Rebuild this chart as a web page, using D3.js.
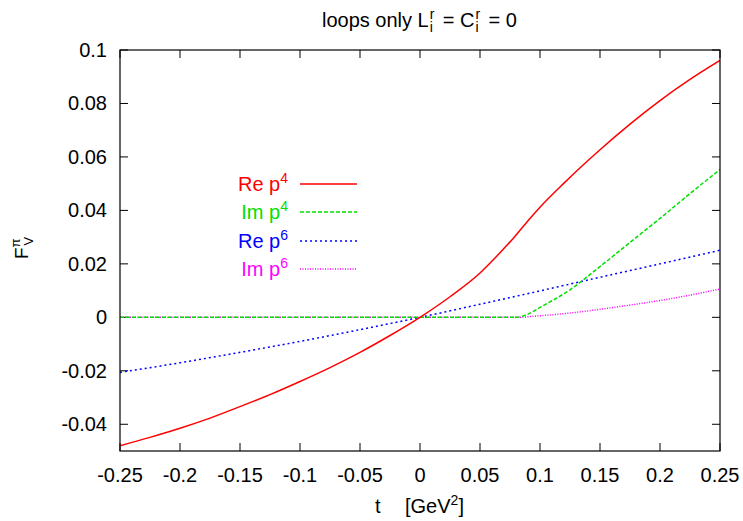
<!DOCTYPE html>
<html><head><meta charset="utf-8">
<script src="https://cdn.jsdelivr.net/npm/d3@7"></script>
<style>
body{margin:0;background:#fff;}
svg{display:block;font-family:"Liberation Sans",Arial,Helvetica,sans-serif;}
</style></head>
<body><svg id="c" width="743" height="521"></svg>
<script>
// ---- data ----
const rePos = [[-0.25,-0.048],[-0.225,-0.0449],[-0.2,-0.0415],[-0.175,-0.0377],[-0.15,-0.0334],[-0.125,-0.0289],[-0.1,-0.0240],[-0.075,-0.0188],[-0.05,-0.0131],[-0.025,-0.0068],[0,0],[0.025,0.0077],[0.05,0.0166],[0.0625,0.0222],[0.078,0.0297],[0.092,0.0372],[0.1,0.0412],[0.12,0.0502],[0.135,0.0566],[0.15,0.0627],[0.175,0.0723],[0.2,0.0811],[0.225,0.0890],[0.25,0.0961]];
const imP4 = [[-0.25,0],[0.08,0],[0.09,0.0012],[0.1,0.0037],[0.125,0.0103],[0.15,0.019],[0.175,0.028],[0.2,0.037],[0.225,0.0463],[0.25,0.0553]];
const reP6 = [[-0.25,-0.0206],[-0.2,-0.017],[-0.15,-0.0131],[-0.1,-0.009],[-0.05,-0.0046],[0,0],[0.05,0.0049],[0.1,0.0099],[0.15,0.015],[0.2,0.02],[0.25,0.0251]];
const imP6 = [[-0.25,0],[0.08,0],[0.1,0.0006],[0.125,0.0016],[0.15,0.003],[0.175,0.0046],[0.2,0.0063],[0.225,0.0083],[0.25,0.0106]];
const xTicks = [-0.25,-0.2,-0.15,-0.1,-0.05,0,0.05,0.1,0.15,0.2,0.25];
const xTickLabels = ["-0.25","-0.2","-0.15","-0.1","-0.05","0","0.05","0.1","0.15","0.2","0.25"];
const yTicks = [-0.04,-0.02,0,0.02,0.04,0.06,0.08,0.1];
const yTickLabels = ["-0.04","-0.02","0","0.02","0.04","0.06","0.08","0.1"];
const seriesNames = ["Re p","Im p","Re p","Im p"];
const seriesPowers = ["4","4","6","6"];

const series = [
 {data:rePos, color:"#ff0000", dash:null, w:1.5},
 {data:imP4, color:"#00e000", dash:"4,2", w:1.5},
 {data:reP6, color:"#0000ff", dash:"2,3", w:1.5},
 {data:imP6, color:"#ff00ff", dash:"1,1.5", w:1.5}
];

const svg = d3.select("#c");
const L=120,R=720,T=50,B=451;
const x = d3.scaleLinear().domain([-0.25,0.25]).range([L,R]);
const y = d3.scaleLinear().domain([-0.05,0.1]).range([B,T]);
const fs = 20;

// ticks (inward, mirrored)
const tl = 8;
const g = svg.append("g");
xTicks.forEach((t,i)=>{
  g.append("line").attr("x1",x(t)).attr("x2",x(t)).attr("y1",B).attr("y2",B-tl).attr("stroke","#000");
  g.append("line").attr("x1",x(t)).attr("x2",x(t)).attr("y1",T).attr("y2",T+tl).attr("stroke","#000");
  g.append("text").attr("x",x(t)).attr("y",B+31).attr("text-anchor","middle").attr("font-size",fs).text(xTickLabels[i]);
});
yTicks.forEach((t,i)=>{
  g.append("line").attr("x1",L).attr("x2",L+tl).attr("y1",y(t)).attr("y2",y(t)).attr("stroke","#000");
  g.append("line").attr("x1",R).attr("x2",R-tl).attr("y1",y(t)).attr("y2",y(t)).attr("stroke","#000");
  g.append("text").attr("x",L-13).attr("y",y(t)+7).attr("text-anchor","end").attr("font-size",fs).text(yTickLabels[i]);
});

const line = d3.line().x(d=>x(d[0])).y(d=>y(d[1])).curve(d3.curveMonotoneX);
svg.append("clipPath").attr("id","pc").append("rect").attr("x",L).attr("y",T).attr("width",R-L).attr("height",B-T);
series.slice().reverse().forEach(s=>{
  svg.append("path").attr("d",line(s.data)).attr("fill","none").attr("stroke",s.color)
   .attr("stroke-width",s.w).attr("stroke-dasharray",s.dash).attr("clip-path","url(#pc)");
});

svg.append("rect").attr("x",L).attr("y",T).attr("width",R-L).attr("height",B-T)
  .attr("fill","none").attr("stroke","#000").attr("stroke-width",1.2);

// legend
const ly=[184,212,241,269];
series.forEach((s,i)=>{
  const t = svg.append("text").attr("x",288).attr("y",ly[i]+7).attr("text-anchor","end").attr("font-size",fs).attr("fill",s.color);
  t.append("tspan").text(seriesNames[i]);
  t.append("tspan").attr("dy",-8).attr("font-size",14).text(seriesPowers[i]);
  svg.append("line").attr("x1",300).attr("x2",357).attr("y1",ly[i]).attr("y2",ly[i])
    .attr("stroke",s.color).attr("stroke-width",s.w).attr("stroke-dasharray",s.dash);
});

// title (sup/sub stacked)
const tg = svg.append("g");
let cx = 322;
const base = 27;
function txt(s,xx,yy,size){ return tg.append("text").attr("x",xx).attr("y",yy).attr("font-size",size).text(s); }
let n1 = txt("loops only L",cx,base,20); cx += n1.node().getComputedTextLength();
txt("r",cx+1,base-8,14); txt("i",cx+1,base+5,14); cx += 14;
let n2 = txt("= C",cx,base,20); cx += n2.node().getComputedTextLength();
txt("r",cx+1,base-8,14); txt("i",cx+1,base+5,14); cx += 14;
txt("= 0",cx,base,20);

// x label
svg.append("text").attr("x",375).attr("y",513).attr("font-size",fs).text("t");
const xl = svg.append("text").attr("x",405).attr("y",513).attr("font-size",fs);
xl.append("tspan").text("[GeV");
xl.append("tspan").attr("font-size",14).attr("dy",-8).text("2");
xl.append("tspan").attr("dy",8).text("]");

// y label
const yl = svg.append("text").attr("transform","translate(28,259) rotate(-90)").attr("font-size",19);
yl.append("tspan").text("F");
yl.append("tspan").attr("font-size",13).attr("dy",-8).text("π");
yl.append("tspan").attr("font-size",13).attr("dx",-7).attr("dy",13).text("V");
</script></body></html>
